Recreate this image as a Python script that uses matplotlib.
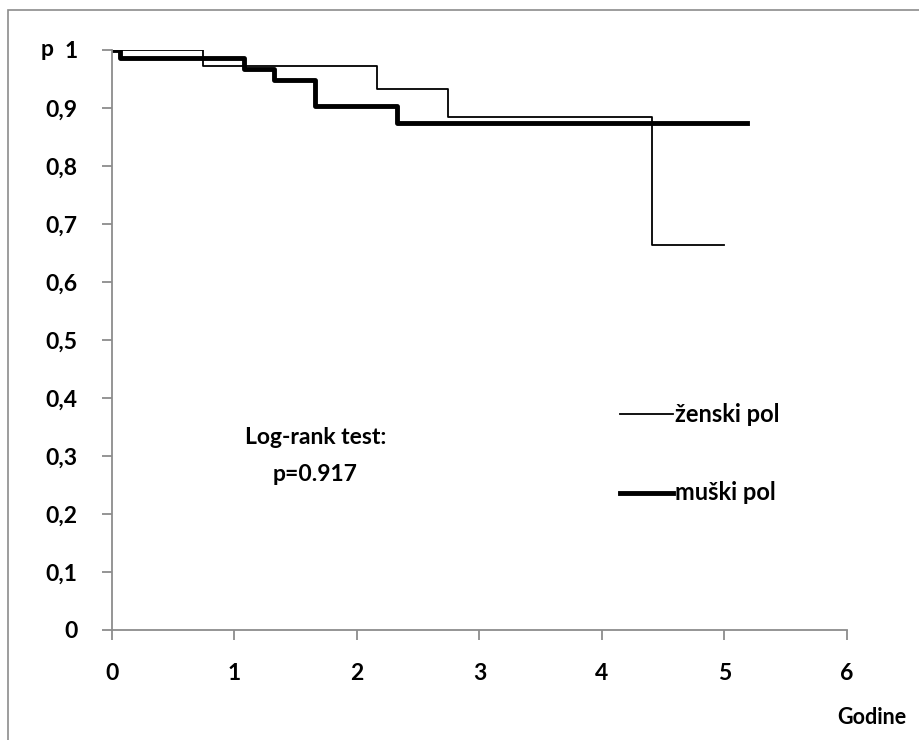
import matplotlib
matplotlib.use("Agg")
import matplotlib.pyplot as plt
from matplotlib.patches import Rectangle

# ========= DATOS ==========
# ženski pol (tanka linija)
zene_t = [0.0, 0.74, 2.16, 2.74, 4.41, 5.0]
zene_p = [1.0, 0.973, 0.932, 0.884, 0.663, 0.663]
# muški pol (debela linija)
muski_t = [0.0, 0.065, 1.08, 1.32, 1.66, 2.33, 5.18]
muski_p = [1.0, 0.986, 0.968, 0.948, 0.903, 0.874, 0.874]

x_ticks = [0, 1, 2, 3, 4, 5, 6]
y_ticks = [0, 0.1, 0.2, 0.3, 0.4, 0.5, 0.6, 0.7, 0.8, 0.9, 1.0]
y_labels = ["0", "0,1", "0,2", "0,3", "0,4", "0,5", "0,6", "0,7", "0,8", "0,9", "1"]
# ==========================

plt.rcParams['font.family'] = ['Lato', 'DejaVu Sans']
plt.rcParams['font.weight'] = 'bold'
siva = '#8c8c8c'

fig = plt.figure(figsize=(9.19, 7.4), dpi=100)
fig.patches.append(Rectangle((8 / 919, -0.1), 1.2, 1 - 10 / 740 + 0.1,
                             transform=fig.transFigure, fill=False,
                             edgecolor=siva, linewidth=1.2))

ax = fig.add_axes([112 / 919, 1 - 630 / 740, 735 / 919, 580 / 740])
ax.step(zene_t, zene_p, where='post', color='black', linewidth=1.3)
ax.step(muski_t, muski_p, where='post', color='black', linewidth=3.5)

ax.set_xlim(0, 6)
ax.set_ylim(0, 1)
ax.set_xticks(x_ticks)
ax.set_yticks(y_ticks)
ax.set_yticklabels(y_labels)
for s in ['top', 'right']:
    ax.spines[s].set_visible(False)
for s in ['left', 'bottom']:
    ax.spines[s].set_color(siva)
    ax.spines[s].set_linewidth(1.3)
ax.tick_params(axis='both', direction='out', length=7, width=1.3, color=siva,
               labelsize=16.5)
ax.tick_params(axis='y', pad=18)
ax.tick_params(axis='x', pad=17)
for lbl in ax.get_xticklabels() + ax.get_yticklabels():
    lbl.set_fontweight('bold')

fig.text(41 / 919, 1 - 50 / 740, "p", fontsize=16.5, fontweight='bold',
         ha='left', va='center')
fig.text(906 / 919, 1 - 718 / 740, "Godine", fontsize=15.5, fontweight='bold',
         ha='right', va='center')

ax.text(1.66, 0.30, "Log-rank test:\np=0.917", fontsize=16.5, fontweight='bold',
        ha='center', va='center', linespacing=1.9)

# legenda
ax.plot([4.15, 4.58], [0.372, 0.372], color='black', linewidth=1.3)
ax.text(4.6, 0.372, "ženski pol", fontsize=17, fontweight='bold', va='center')
ax.plot([4.15, 4.58], [0.237, 0.237], color='black', linewidth=3.5)
ax.text(4.6, 0.237, "muški pol", fontsize=17, fontweight='bold', va='center')

fig.savefig("out.png", dpi=100)
